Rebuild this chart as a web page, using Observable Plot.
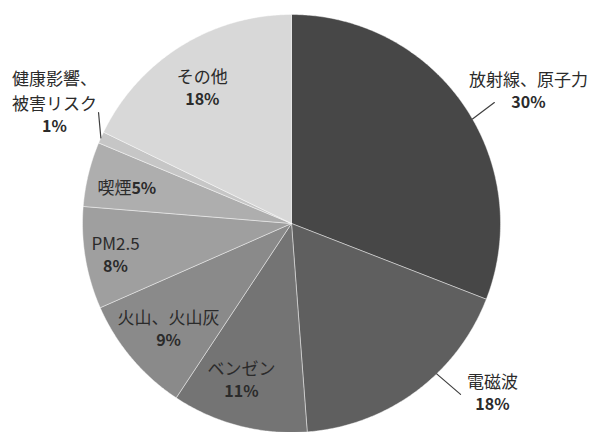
<!DOCTYPE html>
<html>
<head>
<meta charset="utf-8">
<script src="https://cdn.jsdelivr.net/npm/d3@7"></script>
<script src="https://cdn.jsdelivr.net/npm/@observablehq/plot@0.6"></script>
<style>
  html, body { margin: 0; padding: 0; background: #fff; }
  #chart svg { display: block; }
</style>
</head>
<body>
<div id="chart"></div>
<script>
// ---- data ----
const names = ["放射線、原子力", "電磁波", "ベンゼン", "火山、火山灰", "PM2.5", "喫煙", "健康影響、\n被害リスク", "その他"];
const values = [30.9, 17.9, 10.5, 9.1, 7.9, 5.0, 0.9, 17.8];
const pctLabels = ["30%", "18%", "11%", "9%", "8%", "5%", "1%", "18%"];
const colors = ["#474747", "#5f5f5f", "#747474", "#8a8a8a", "#9f9f9f", "#aeaeae", "#c6c6c6", "#d8d8d8"];

// ---- layout (style) ----
const W = 593, H = 432, CX = 291, CY = 223, R = 209;
const LINE = 25; // px between text lines
const labelAngleShift = [5.1, -13.4, 3.2, -0.4, -0.5, -1.4, 0.4, -1.2]; // degrees from slice mid angle
const labelRadius = [1.30, 1.256, 0.784, 0.774, 0.855, 0.784, 1.248, 0.778];
const inlineLabel = [false, false, false, false, false, true, false, false];
const leaders = [ // [slice index, angle0, r0, angle1, r1]
  [0, 60.0, 1.0, 59.2, 1.13],
  [1, 136.0, 1.0, 135.3, 1.15],
  [6, 294.2, 1.0, 299.9, 1.065]
];

const total = d3.sum(values);
const rad = (deg) => deg * Math.PI / 180;
const polar = (deg, r) => ({x: r * Math.sin(rad(deg)), y: r * Math.cos(rad(deg))});

// slice polygons
const slices = [];
let cum = 0;
const mids = [];
values.forEach((v, i) => {
  const a0 = cum / total * 360, a1 = (cum + v) / total * 360;
  cum += v;
  mids.push((a0 + a1) / 2);
  const n = Math.max(2, Math.ceil((a1 - a0) / 0.5));
  slices.push({name: names[i], x: 0, y: 0});
  for (let k = 0; k <= n; k++) {
    const p = polar(a0 + (a1 - a0) * k / n, 1);
    slices.push({name: names[i], x: p.x, y: p.y});
  }
  slices.push({name: names[i], x: 0, y: 0});
});

const labels = names.map((nm, i) => {
  const p = polar(mids[i] + labelAngleShift[i], labelRadius[i]);
  const nLines = nm.split("\n").length;
  return {name: nm, pct: pctLabels[i], x: p.x, y: p.y, inline: inlineLabel[i],
          nameDy: -(LINE / 2 + (nLines - 1) * LINE / 2)};
});
const stacked = labels.filter(d => !d.inline);
const inl = labels.filter(d => d.inline);

const leaderPts = [];
leaders.forEach(([i, a0, r0, a1, r1]) => {
  leaderPts.push({id: i, ...polar(a0, r0)});
  leaderPts.push({id: i, ...polar(a1, r1)});
});

const font = "'Noto Sans CJK JP', 'Noto Sans', sans-serif";
const textMarks = [];
stacked.forEach(d => {
  textMarks.push(Plot.text([d], {x: "x", y: "y", text: "name", lineAnchor: "middle", dy: d.nameDy, fontSize: 17, fill: "#2b2b2b", lineHeight: LINE / 17}));
});

const chart = Plot.plot({
  width: W,
  height: H,
  margin: 0,
  style: {fontFamily: font, background: "#fff"},
  x: {domain: [-CX / R, (W - CX) / R], axis: null},
  y: {domain: [(CY - H) / R, CY / R], axis: null},
  color: {domain: names, range: colors},
  marks: [
    Plot.line(slices, {x: "x", y: "y", z: "name", fill: "name", stroke: "#ffffff", strokeOpacity: 0.55, strokeWidth: 0.8, curve: "linear"}),
    Plot.line(leaderPts, {x: "x", y: "y", z: "id", stroke: "#404040", strokeWidth: 1.2}),
    ...textMarks,
    Plot.text(stacked, {x: "x", y: "y", text: "pct", lineAnchor: "middle", dy: LINE / 2, fontSize: 16, fontWeight: 600, fill: "#2b2b2b"}),
    Plot.text(inl, {x: "x", y: "y", text: "name", textAnchor: "end", fontSize: 17, fill: "#2b2b2b"}),
    Plot.text(inl, {x: "x", y: "y", text: "pct", textAnchor: "start", fontSize: 16, fontWeight: 600, fill: "#2b2b2b"})
  ]
});
document.getElementById("chart").appendChild(chart);
</script>
</body>
</html>
